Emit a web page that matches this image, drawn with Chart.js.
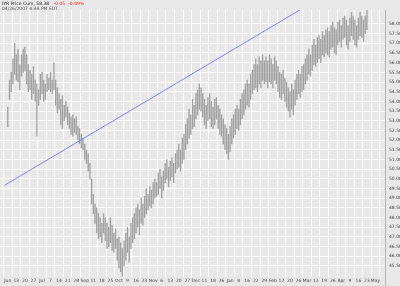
<!DOCTYPE html>
<html>
<head>
<meta charset="utf-8">
<script src="https://cdn.jsdelivr.net/npm/chart.js@4"></script>
<style>
  html, body { margin: 0; padding: 0; background: #e8e8e8; }
  #wrap { position: relative; width: 400px; height: 286px; }
  #head { position: absolute; left: 2px; top: 1px; font-family: "DejaVu Sans", sans-serif; font-size: 4.5px; line-height: 5px; color: #222; }
  #head .chg { color: #e02020; margin-left: 3px; }
  #head .sub { color: #555; }
</style>
</head>
<body>
<div id="wrap">
  <canvas id="demo-chart" width="400" height="286"></canvas>
  <div id="head">
    <div>IYR Price Cum, 58.38 <span class="chg">-0.05</span><span class="chg">-0.09%</span></div>
    <div class="sub">04/26/2007 4:44 PM EDT</div>
  </div>
</div>
<script>
// weekly tick labels, one per 5 trading days
let weekLabels = ['Jun', '13', '20', '27', 'Jul', '7', '14', '21', '28', 'Sep', '11', '18', '25',
  'Oct', '9', '16', '23', 'Nov', '6', '13', '20', '27', 'Dec', '11', '18', '26', 'Jan', '8', '16',
  '22', '29', 'Feb', '12', '20', '26', 'Mar', '12', '19', '26', 'Apr', '9', '16', '23', 'May']

// daily highs and lows
let highs = [53.7, 55.1, 55.5, 56.2, 57.0, 56.4, 56.7, 55.9, 56.4, 56.7, 56.8, 56.4, 55.9, 55.6, 55.4, 55.8, 55.1, 54.9, 54.6, 55.4,
  55.5, 55.1, 54.9, 55.4, 55.2, 55.5, 55.1, 56.0, 55.1, 54.7, 54.4, 54.1, 54.3, 53.8, 54.0, 53.7, 53.4, 53.2, 53.3, 53.1,
  53.2, 52.7, 52.6, 52.3, 52.1, 51.8, 51.5, 51.3, 50.8, 50.0, 49.2, 48.7, 48.5, 48.2, 48.0, 47.7, 48.2, 48.0, 47.7, 47.5,
  48.0, 47.6, 47.2, 47.4, 46.9, 47.0, 46.7, 46.4, 46.8, 47.2, 47.5, 47.0, 47.7, 48.0, 48.2, 48.5, 48.7, 48.4, 49.0, 48.7,
  49.1, 49.5, 49.2, 49.6, 49.4, 49.8, 50.0, 49.8, 50.3, 50.5, 50.1, 50.4, 50.8, 51.0, 50.6, 50.9, 51.1, 50.8, 51.3, 51.5,
  51.8, 51.5, 52.1, 52.3, 52.8, 53.1, 53.6, 53.3, 54.1, 53.8, 54.4, 54.6, 54.9, 54.7, 54.4, 54.1, 53.8, 54.2, 54.4, 54.0,
  53.7, 54.1, 54.2, 53.8, 53.6, 53.3, 53.1, 52.8, 52.6, 52.3, 52.7, 53.1, 53.3, 53.6, 53.8, 53.6, 54.1, 54.4, 54.6, 54.9,
  55.1, 54.9, 55.4, 55.6, 55.9, 56.2, 55.9, 56.3, 56.1, 56.4, 56.1, 56.3, 56.1, 56.4, 56.2, 55.9, 56.3, 56.1, 55.8, 55.5,
  55.4, 55.6, 55.2, 55.0, 54.7, 54.5, 54.9, 54.6, 55.1, 55.4, 55.6, 55.4, 55.8, 55.9, 56.2, 56.4, 56.7, 56.4, 56.9, 57.2,
  56.9, 57.3, 57.4, 57.2, 57.6, 57.4, 57.7, 57.8, 57.6, 57.9, 58.1, 57.8, 57.7, 58.1, 58.2, 57.9, 58.3, 58.4, 58.2, 57.9,
  58.3, 58.6, 58.4, 58.2, 57.9, 58.3, 58.6, 58.4, 58.2, 58.4, 58.7]
let lows = [52.7, 54.1, 54.5, 54.9, 55.4, 55.1, 55.0, 54.6, 55.3, 55.5, 55.6, 54.9, 54.5, 54.6, 54.1, 54.4, 54.0, 52.2, 53.8, 54.1,
  54.4, 54.0, 54.1, 54.5, 54.6, 54.5, 54.4, 54.6, 53.8, 53.4, 53.6, 52.8, 52.6, 53.0, 53.2, 52.8, 52.6, 52.3, 52.2, 52.4,
  52.3, 52.0, 51.8, 51.6, 51.5, 51.0, 50.8, 50.4, 50.0, 48.7, 48.2, 47.7, 47.2, 46.9, 47.0, 46.7, 47.2, 46.8, 46.4, 46.5,
  46.7, 46.3, 46.2, 46.4, 45.8, 45.4, 45.2, 44.9, 45.5, 45.8, 46.2, 45.7, 46.4, 46.7, 46.9, 47.2, 47.5, 47.1, 47.7, 47.6,
  48.0, 48.2, 48.4, 48.6, 48.5, 48.7, 49.0, 49.1, 49.2, 49.5, 49.0, 49.4, 49.8, 50.0, 49.6, 49.9, 50.1, 49.8, 50.3, 50.5,
  50.6, 50.4, 50.8, 51.0, 51.5, 51.8, 52.1, 52.3, 52.6, 52.7, 53.1, 53.3, 53.6, 53.5, 53.2, 52.8, 52.6, 53.0, 53.1, 52.7,
  52.6, 52.8, 53.1, 52.6, 52.3, 52.2, 51.8, 51.5, 51.3, 51.0, 51.4, 51.8, 52.1, 52.3, 52.6, 52.5, 52.8, 53.1, 53.3, 53.6,
  53.8, 53.7, 54.1, 54.4, 54.6, 54.7, 54.5, 54.9, 54.7, 55.1, 54.9, 55.0, 54.7, 55.0, 54.9, 54.7, 55.1, 54.9, 54.5, 54.2,
  54.1, 54.4, 54.0, 53.7, 53.5, 53.2, 53.6, 53.3, 53.8, 54.1, 54.4, 54.2, 54.5, 54.6, 54.9, 55.1, 55.4, 55.3, 55.6, 55.9,
  55.8, 56.0, 56.2, 56.0, 56.4, 56.3, 56.5, 56.4, 56.3, 56.7, 56.8, 56.5, 56.4, 56.9, 57.1, 56.8, 57.2, 57.3, 56.9, 56.7,
  57.1, 57.4, 57.2, 56.9, 56.8, 57.2, 57.4, 57.3, 57.1, 57.5, 57.7]

// trend line end points (day index, price)
let trendDays = [-2, 218]
let trendPrices = [49.66, 61.2]

const bars = highs.map((h, i) => ({ x: i, y: [lows[i], h] }))
const trend = trendDays.map((d, i) => ({ x: d, y: trendPrices[i] }))

const bgPlugin = {
  id: 'bg',
  beforeDraw(chart) {
    const { ctx } = chart
    ctx.save()
    ctx.fillStyle = '#e8e8e8'
    ctx.fillRect(0, 0, chart.width, chart.height)
    ctx.restore()
  },
  afterDraw(chart) {
    const { ctx, chartArea } = chart
    ctx.save()
    ctx.strokeStyle = '#b4b4b4'
    ctx.lineWidth = 1
    ctx.beginPath()
    ctx.moveTo(chartArea.right + 0.5, chartArea.top)
    ctx.lineTo(chartArea.right + 0.5, chart.height)
    ctx.stroke()
    ctx.restore()
  }
}

let myChart = new Chart(document.getElementById('demo-chart'), {
  type: 'bar',
  data: {
    datasets: [{
      label: 'range',
      data: bars,
      backgroundColor: '#a0a0a0',
      borderWidth: 0,
      barThickness: 0.7,
      order: 2
    }, {
      type: 'line',
      label: 'trend',
      data: trend,
      borderColor: '#8080ff',
      borderWidth: 1,
      pointRadius: 0,
      fill: false,
      order: 1
    }]
  },
  options: {
    responsive: false,
    animation: false,
    events: [],
    layout: { padding: { top: 10, left: 0, right: 0, bottom: 0 } },
    plugins: { legend: { display: false }, tooltip: { enabled: false } },
    scales: {
      x: {
        type: 'linear',
        min: -2,
        max: 218,
        grid: { color: '#ffffff', lineWidth: 1, drawTicks: false },
        border: { display: false },
        afterBuildTicks: (scale) => {
          scale.ticks = weekLabels.map((l, i) => ({ value: i * 5 }))
        },
        ticks: {
          autoSkip: false,
          maxRotation: 0,
          padding: 2,
          color: '#444',
          font: { family: 'DejaVu Sans', size: 4.5 },
          callback: (v) => weekLabels[Math.round(v / 5)] || ''
        }
      },
      y: {
        position: 'right',
        min: 44.95,
        max: 58.72,
        grid: { color: '#ffffff', lineWidth: 1, drawTicks: false },
        border: { display: false },
        afterFit: (scale) => { scale.width = 15 },
        afterBuildTicks: (scale) => {
          scale.ticks = scale.ticks.filter(t => Math.abs(t.value * 2 - Math.round(t.value * 2)) < 1e-6)
        },
        ticks: {
          stepSize: 0.5,
          padding: 4,
          color: '#444',
          font: { family: 'DejaVu Sans', size: 4.5 },
          callback: (v) => v.toFixed(2)
        }
      }
    }
  },
  plugins: [bgPlugin]
})
</script>
</body>
</html>
